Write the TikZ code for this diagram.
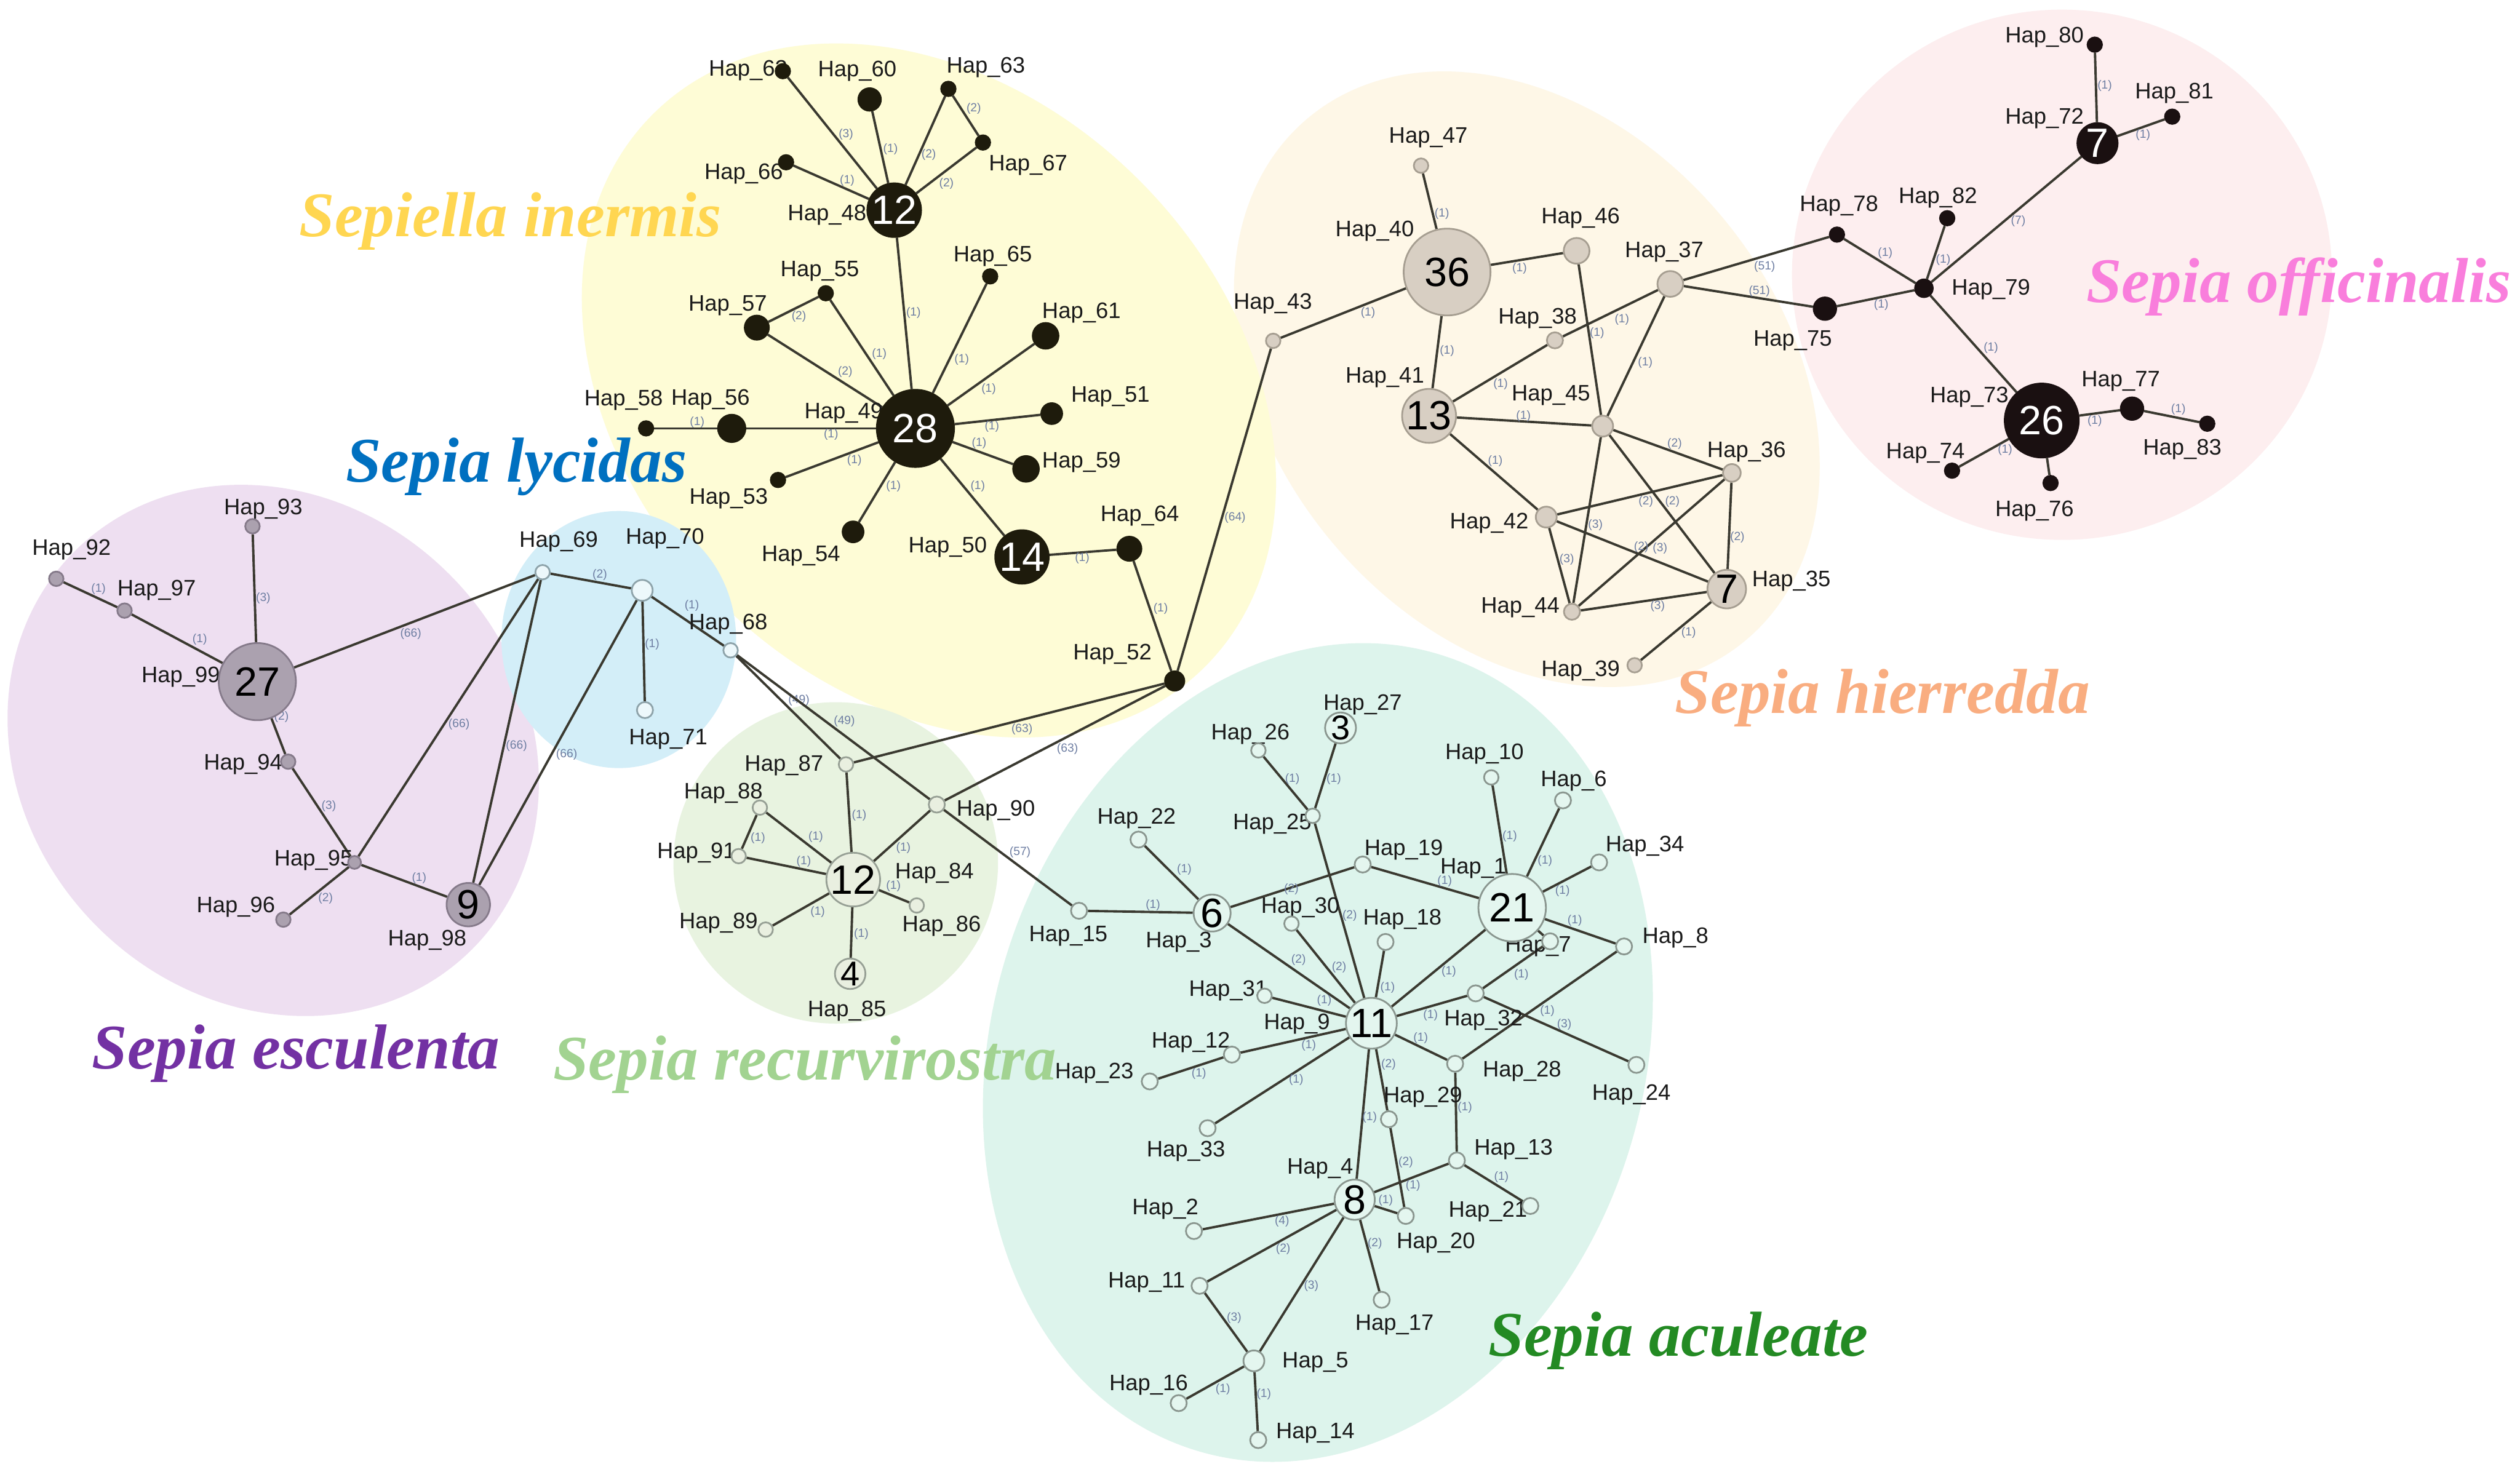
\documentclass[tikz,border=0pt]{standalone}
\usepackage{fontspec}
\setmainfont{Liberation Sans}
\newfontfamily\spfont{Liberation Serif}
\pgfdeclarelayer{bg}
\pgfdeclarelayer{edges}
\pgfsetlayers{bg,edges,main}
\definecolor{inec}{HTML}{1E1B0C}
\definecolor{offc}{HTML}{1A1011}
\definecolor{hiec}{HTML}{D8CFC3}\definecolor{hied}{HTML}{A69E91}
\definecolor{escc}{HTML}{ABA1AF}\definecolor{escd}{HTML}{857A8A}
\definecolor{lycc}{HTML}{EDF8FB}\definecolor{lycd}{HTML}{8EA3AA}
\definecolor{recc}{HTML}{E9EFE0}\definecolor{recd}{HTML}{97A095}
\definecolor{acuc}{HTML}{E4F6EF}\definecolor{acud}{HTML}{8A968F}
\definecolor{edgec}{HTML}{3A3930}
\definecolor{labc}{HTML}{1A1A1A}
\definecolor{elabc}{HTML}{6F7FA3}
\definecolor{yelbg}{HTML}{FEFCD6}
\definecolor{beibg}{HTML}{FEF7E7}
\definecolor{pinbg}{HTML}{FDEEEF}
\definecolor{purbg}{HTML}{EEDFF1}
\definecolor{blubg}{HTML}{D3EEF8}
\definecolor{grnbg}{HTML}{E8F3E0}
\definecolor{mntbg}{HTML}{DDF4EC}
\definecolor{spyel}{HTML}{FFD651}
\definecolor{spblu}{HTML}{0070C0}
\definecolor{sppin}{HTML}{F97EDC}
\definecolor{spsal}{HTML}{F9AD80}
\definecolor{sppur}{HTML}{7331A3}
\definecolor{splgr}{HTML}{A2D391}
\definecolor{spdgr}{HTML}{238A23}
\newcommand\E[4]{\draw[edge] (#1) -- (#2); \node[elab] at (#3) {(#4)};}
\newcommand\EN[2]{\draw[edge] (#1) -- (#2);}
\begin{document}
\begin{tikzpicture}[x=0.02622cm,y=-0.02622cm,
  hn/.style={circle, inner sep=0pt, line width=0.8pt, font=\fontsize{19}{19}\selectfont},
  rad/.style={minimum size=#1*0.05244cm},
  ine/.style={hn, fill=inec, draw=inec, text=white},
  off/.style={hn, fill=offc, draw=offc, text=white},
  hie/.style={hn, fill=hiec, draw=hied},
  esc/.style={hn, fill=escc, draw=escd},
  lyc/.style={hn, fill=lycc, draw=lycd},
  rec/.style={hn, fill=recc, draw=recd},
  acu/.style={hn, fill=acuc, draw=acud},
  sm/.style={font=\fontsize{16}{16}\selectfont},
  hlab/.style={font=\fontsize{10.4}{12}\selectfont, text=labc, inner sep=0pt},
  elab/.style={font=\fontsize{5.5}{6}\selectfont, text=elabc, inner sep=0pt},
  edge/.style={draw=edgec, line width=1.1pt},
  sp/.style={font=\spfont\bfseries\itshape\fontsize{29.5}{32}\selectfont, anchor=base west, inner sep=0pt}]
\useasboundingbox (0,0) rectangle (1568,915.8);
\begin{pgfonlayer}{bg}
\fill[white] (0,0) rectangle (1568,915.8);
\fill[beibg] (950,236) circle[x radius=212, y radius=158, rotate=-50];
\fill[pinbg] (1283,171) circle[x radius=168, y radius=165];
\fill[yelbg] (578,243) circle[x radius=243, y radius=185, rotate=-45];
\fill[mntbg] (820,655) circle[x radius=203, y radius=259, rotate=-17];
\fill[purbg] (170,467) circle[x radius=175, y radius=155, rotate=-45];
\fill[blubg] (385,398) circle[x radius=73, y radius=80];
\fill[grnbg] (520,537) circle[x radius=101, y radius=100];
\end{pgfonlayer}

% species names
\node[sp, text=spyel] (spI) at (186,147) {Sepiella inermis};
\node[sp, text=spblu] (spL) at (215,300) {Sepia lycidas};
\node[sp, text=sppin] (spO) at (1298,188) {Sepia officinalis};
\node[sp, text=spsal] (spH) at (1042,444) {Sepia hierredda};
\node[sp, text=sppur] (spE) at (57,665) {Sepia esculenta};
\node[sp, text=splgr] (spR) at (344,672) {Sepia recurvirostra};
\node[sp, text=spdgr] (spA) at (926,844) {Sepia aculeate};

% ---------- labels ----------
\node[hlab] (l62) at (465.5,44) {Hap\_62};
\node[hlab] (l60) at (533.4,44.4) {Hap\_60};
\node[hlab] (l63) at (613.4,41.8) {Hap\_63};
\node[hlab] (l66) at (462.8,108) {Hap\_66};
\node[hlab] (l67) at (639.7,102.7) {Hap\_67};
\node[hlab] (l48) at (514.6,133.9) {Hap\_48};
\node[hlab] (l55) at (510.1,168.9) {Hap\_55};
\node[hlab] (l65) at (617.7,159.6) {Hap\_65};
\node[hlab] (l57) at (452.8,190.3) {Hap\_57};
\node[hlab] (l61) at (672.9,194.6) {Hap\_61};
\node[hlab] (l58) at (388,249) {Hap\_58};
\node[hlab] (l56) at (442.1,248.7) {Hap\_56};
\node[hlab] (l49) at (525,257) {Hap\_49};
\node[hlab] (l51) at (690.9,246.7) {Hap\_51};
\node[hlab] (l59) at (672.9,287.6) {Hap\_59};
\node[hlab] (l53) at (453.4,310.4) {Hap\_53};
\node[hlab] (l54) at (498.4,345.9) {Hap\_54};
\node[hlab] (l50) at (589.7,340.6) {Hap\_50};
\node[hlab] (l64) at (709.2,321) {Hap\_64};
\node[hlab] (l52) at (692.2,407.3) {Hap\_52};

\node[hlab] (l47) at (888.7,85.6) {Hap\_47};
\node[hlab] (l40) at (855.4,143.6) {Hap\_40};
\node[hlab] (l46) at (983.5,135.8) {Hap\_46};
\node[hlab] (l37) at (1035.5,156.6) {Hap\_37};
\node[hlab] (l43) at (792,189) {Hap\_43};
\node[hlab] (l38) at (956.7,198.1) {Hap\_38};
\node[hlab] (l41) at (861.7,234.9) {Hap\_41};
\node[hlab] (l45) at (965,246.2) {Hap\_45};
\node[hlab] (l36) at (1086.7,281.2) {Hap\_36};
\node[hlab] (l42) at (926.6,325.7) {Hap\_42};
\node[hlab] (l44) at (946,378) {Hap\_44};
\node[hlab] (l35) at (1114.6,361.7) {Hap\_35};
\node[hlab] (l39) at (983.5,417.5) {Hap\_39};

\node[hlab] (l80) at (1272.1,23.3) {Hap\_80};
\node[hlab] (l81) at (1352.9,58) {Hap\_81};
\node[hlab] (l72) at (1272.1,73.6) {Hap\_72};
\node[hlab] (l78) at (1144.3,128) {Hap\_78};
\node[hlab] (l82) at (1205.8,123.2) {Hap\_82};
\node[hlab] (l79) at (1238.8,180) {Hap\_79};
\node[hlab] (l75) at (1115.5,212.1) {Hap\_75};
\node[hlab] (l73) at (1225.3,247.1) {Hap\_73};
\node[hlab] (l77) at (1319.6,237.4) {Hap\_77};
\node[hlab] (l83) at (1357.9,279.6) {Hap\_83};
\node[hlab] (l74) at (1198,282) {Hap\_74};
\node[hlab] (l76) at (1265.9,317.8) {Hap\_76};

\node[hlab] (l93) at (163.8,316.8) {Hap\_93};
\node[hlab] (l92) at (44.5,342) {Hap\_92};
\node[hlab] (l97) at (97.5,367.4) {Hap\_97};
\node[hlab] (l99) at (112.5,421.3) {Hap\_99};
\node[hlab] (l94) at (151.3,475.8) {Hap\_94};
\node[hlab] (l95) at (195.1,535.3) {Hap\_95};
\node[hlab] (l96) at (146.8,564.3) {Hap\_96};
\node[hlab] (l98) at (265.8,585.3) {Hap\_98};

\node[hlab] (l69) at (347.6,337.2) {Hap\_69};
\node[hlab] (l70) at (413.8,335.3) {Hap\_70};
\node[hlab] (l68) at (453.1,388.3) {Hap\_68};
\node[hlab] (l71) at (415.8,460.2) {Hap\_71};

\node[hlab] (l87) at (487.8,476.3) {Hap\_87};
\node[hlab] (l88) at (450.1,493.5) {Hap\_88};
\node[hlab] (l90) at (619.6,504.2) {Hap\_90};
\node[hlab] (l91) at (433.3,530.8) {Hap\_91};
\node[hlab] (l84) at (581.4,543.5) {Hap\_84};
\node[hlab] (l86) at (585.9,576.5) {Hap\_86};
\node[hlab] (l89) at (447.1,574.6) {Hap\_89};
\node[hlab] (l85) at (527,629) {Hap\_85};

\node[hlab] (l27) at (847.9,438.4) {Hap\_27};
\node[hlab] (l26) at (778,457) {Hap\_26};
\node[hlab] (l25) at (791.6,512.8) {Hap\_25};
\node[hlab] (l10) at (923.7,469.2) {Hap\_10};
\node[hlab] (l6) at (979.2,486.1) {Hap\_6};
\node[hlab] (l34) at (1023.5,526.6) {Hap\_34};
\node[hlab] (l19) at (873.4,528.9) {Hap\_19};
\node[hlab] (l22) at (707.2,509.4) {Hap\_22};
\node[hlab] (l15) at (664.7,582.4) {Hap\_15};
\node[hlab] (l3) at (733.5,586.3) {Hap\_3};
\node[hlab] (l1) at (916.7,540.5) {Hap\_1};
\node[hlab] (l8) at (1042.5,583.8) {Hap\_8};
\node[hlab] (l7) at (957,589) {Hap\_7};
\node[hlab] (l30) at (809.1,565) {Hap\_30};
\node[hlab] (l18) at (872.6,572.2) {Hap\_18};
\node[hlab] (l31) at (764.2,616.5) {Hap\_31};
\node[hlab] (l9) at (807,637.2) {Hap\_9};
\node[hlab] (l32) at (923,634.9) {Hap\_32};
\node[hlab] (l12) at (741,648.6) {Hap\_12};
\node[hlab] (l23) at (680.9,667.7) {Hap\_23};
\node[hlab] (l28) at (947,666.5) {Hap\_28};
\node[hlab] (l24) at (1015.1,681.3) {Hap\_24};
\node[hlab] (l33) at (737.9,716.4) {Hap\_33};
\node[hlab] (l29) at (885.4,682.7) {Hap\_29};
\node[hlab] (l13) at (941.8,715.4) {Hap\_13};
\node[hlab] (l4) at (821.4,727.1) {Hap\_4};
\node[hlab] (l21) at (925.8,754) {Hap\_21};
\node[hlab] (l20) at (893.4,773.5) {Hap\_20};
\node[hlab] (l2) at (725.1,752.4) {Hap\_2};
\node[hlab] (l11) at (713.4,798.2) {Hap\_11};
\node[hlab] (l17) at (867.7,824.5) {Hap\_17};
\node[hlab] (l5) at (818.4,847.9) {Hap\_5};
\node[hlab] (l16) at (714.7,861.9) {Hap\_16};
\node[hlab] (l14) at (818.4,891.7) {Hap\_14};

% ---------- nodes: Sepiella inermis ----------
\node[ine, rad=4.5] (h62) at (487.1,44.3) {};
\node[ine, rad=7] (h60) at (541.1,61.9) {};
\node[ine, rad=4.5] (h63) at (590.1,55.3) {};
\node[ine, rad=4.5] (h67) at (611.6,88.7) {};
\node[ine, rad=4.5] (h66) at (489.1,101) {};
\node[ine, rad=15.5] (h48) at (556.4,130.8) {12};
\node[ine, rad=4.5] (h65) at (616.1,172) {};
\node[ine, rad=4.5] (h55) at (513.8,182.5) {};
\node[ine, rad=7.5] (h57) at (470.9,203.9) {};
\node[ine, rad=8] (h61) at (650.6,209) {};
\node[ine, rad=6.5] (h51) at (654.4,257.4) {};
\node[ine, rad=24] (h49) at (569.6,266.6) {28};
\node[ine, rad=8.5] (h56) at (455.3,266.6) {};
\node[ine, rad=4.5] (h58) at (402,266.6) {};
\node[ine, rad=8] (h59) at (638.4,291.8) {};
\node[ine, rad=4.5] (h53) at (484.1,298.7) {};
\node[ine, rad=6.5] (h54) at (530.8,331) {};
\node[ine, rad=16.5] (h50) at (635.9,346.6) {14};
\node[ine, rad=7.5] (h64) at (702.7,341.5) {};
\node[ine, rad=6] (h52) at (730.9,423.8) {};

% ---------- Sepia hierredda ----------
\node[hie, rad=4.5] (h47) at (884.2,103.1) {};
\node[hie, rad=27] (h40) at (900.4,169.3) {36};
\node[hie, rad=8] (h46) at (981,156.1) {};
\node[hie, rad=8] (h37) at (1039.3,176.7) {};
\node[hie, rad=4.5] (h43) at (792.2,212.1) {};
\node[hie, rad=5] (h38) at (967.5,211.8) {};
\node[hie, rad=16] (h41) at (889.2,258.8) {13};
\node[hie, rad=6.5] (h45) at (997.2,265.2) {};
\node[hie, rad=5.5] (h36) at (1077.6,294.3) {};
\node[hie, rad=6.5] (h42) at (962.1,321.8) {};
\node[hie, rad=5] (h44) at (978.1,380.7) {};
\node[hie, rad=12] (h35) at (1074.4,366.6) {7};
\node[hie, rad=4.5] (h39) at (1017.1,414) {};

% ---------- Sepia officinalis ----------
\node[off, rad=4.5] (h80) at (1303.4,27.8) {};
\node[off, rad=4.5] (h81) at (1351.6,72.6) {};
\node[off, rad=12.5] (h72) at (1305.1,89.1) {7};
\node[off, rad=4.5] (h78) at (1143,146) {};
\node[off, rad=4.5] (h82) at (1211.6,135.8) {};
\node[off, rad=5.5] (h79) at (1197.1,179.4) {};
\node[off, rad=7] (h75) at (1135.5,192.1) {};
\node[off, rad=23] (h73) at (1270.4,261.7) {26};
\node[off, rad=7] (h77) at (1326.6,254.3) {};
\node[off, rad=4.5] (h83) at (1373.4,263.7) {};
\node[off, rad=4.5] (h74) at (1214.6,292.9) {};
\node[off, rad=4.5] (h76) at (1275.9,300.6) {};

% ---------- Sepia esculenta ----------
\node[esc, rad=4.5] (h93) at (157.1,327.5) {};
\node[esc, rad=4.5] (h92) at (35,360.2) {};
\node[esc, rad=4.5] (h97) at (77.5,380) {};
\node[esc, rad=24] (h99) at (160.1,424.2) {27};
\node[esc, rad=4.5] (h94) at (179.3,474) {};
\node[esc, rad=4] (h95) at (220.6,536.7) {};
\node[esc, rad=4.5] (h96) at (176.3,572.3) {};
\node[esc, rad=13.5] (h98) at (291.4,563) {9};

% ---------- Sepia lycidas ----------
\node[lyc, rad=4.5] (h69) at (337.6,356.1) {};
\node[lyc, rad=6.5] (h70) at (399.6,367.4) {};
\node[lyc, rad=4.5] (h68) at (454.6,404.7) {};
\node[lyc, rad=5] (h71) at (401.3,441.9) {};

% ---------- Sepia recurvirostra ----------
\node[rec, rad=4.5] (h87) at (526.4,475.7) {};
\node[rec, rad=4.5] (h88) at (472.8,502.6) {};
\node[rec, rad=5] (h90) at (582.9,500.7) {};
\node[rec, rad=4.5] (h91) at (459.6,532.8) {};
\node[rec, rad=14.5] (h84) at (530.9,547.4) {12};
\node[rec, rad=4.5] (h86) at (570.4,563.5) {};
\node[rec, rad=4.5] (h89) at (476.4,578.5) {};
\node[rec, rad=9, sm] (h85) at (529,606) {4};

% ---------- Sepia aculeate ----------
\node[acu, rad=8, sm] (h27) at (834.1,453) {3};
\node[acu, rad=4.5] (h26) at (783,467) {};
\node[acu, rad=4.5] (h25) at (816.8,507.7) {};
\node[acu, rad=4.5] (h10) at (927.9,483.8) {};
\node[acu, rad=5] (h6) at (972.5,498.1) {};
\node[acu, rad=5] (h34) at (995,536.7) {};
\node[acu, rad=5] (h19) at (847.9,538) {};
\node[acu, rad=5] (h22) at (708.4,522.5) {};
\node[acu, rad=5] (h15) at (671.4,566.8) {};
\node[acu, rad=11.5] (h3) at (754.2,568.2) {6};
\node[acu, rad=21] (h1) at (940.9,564.9) {21};
\node[acu, rad=5] (h8) at (1010.5,589) {};
\node[acu, rad=5] (h7) at (964.5,585.8) {};
\node[acu, rad=4.5] (h30) at (803.6,574.8) {};
\node[acu, rad=5] (h18) at (862.1,586.2) {};
\node[acu, rad=4.5] (h31) at (786.8,619.7) {};
\node[acu, rad=15] (h9) at (853.3,636.8) {11};
\node[acu, rad=5] (h32) at (918.2,618.2) {};
\node[acu, rad=5] (h12) at (766.5,656.3) {};
\node[acu, rad=5] (h23) at (715.4,673) {};
\node[acu, rad=5] (h28) at (905.4,662) {};
\node[acu, rad=5] (h24) at (1018.2,662.7) {};
\node[acu, rad=5] (h33) at (751.4,702.1) {};
\node[acu, rad=5] (h29) at (864.2,696.5) {};
\node[acu, rad=5] (h13) at (906.5,722.2) {};
\node[acu, rad=12.5] (h4) at (842.9,746.6) {8};
\node[acu, rad=5] (h21) at (952.2,750.5) {};
\node[acu, rad=5] (h20) at (874.7,756.7) {};
\node[acu, rad=5] (h2) at (742.9,766.1) {};
\node[acu, rad=5] (h11) at (746.4,800.2) {};
\node[acu, rad=5] (h17) at (859.7,808.9) {};
\node[acu, rad=6.5] (h5) at (780.2,846.9) {};
\node[acu, rad=5] (h16) at (733.4,873.2) {};
\node[acu, rad=5] (h14) at (782.9,896.2) {};

% ---------- connectors ----------
\begin{pgfonlayer}{edges}
\E{h62}{h48}{526.4,83.7}{3}
\E{h60}{h48}{554.1,92.8}{1}
\E{h63}{h48}{577.9,96.3}{2}
\E{h63}{h67}{605.9,67.7}{2}
\E{h67}{h48}{588.9,114.2}{2}
\E{h66}{h48}{527.1,112.3}{1}
\E{h48}{h49}{568.4,194.6}{1}
\E{h57}{h55}{497.1,196.9}{2}
\E{h55}{h49}{547.1,220.5}{1}
\E{h57}{h49}{525.9,231.6}{2}
\E{h65}{h49}{598.4,223.8}{1}
\E{h61}{h49}{615.2,242.3}{1}
\E{h58}{h56}{433.8,262.7}{1}
\E{h56}{h49}{517.1,270.5}{1}
\E{h51}{h49}{617.2,265.6}{1}
\E{h59}{h49}{609.2,275.9}{1}
\E{h53}{h49}{531.6,286.4}{1}
\E{h54}{h49}{555.9,302.6}{1}
\E{h50}{h49}{608.4,302.6}{1}
\E{h50}{h64}{673.4,347.4}{1}
\E{h64}{h52}{722.2,378.7}{1}
\E{h52}{h43}{768.5,322.2}{64}
\E{h52}{h87}{635.9,454}{63}
\E{h52}{h90}{664.2,466.2}{63}

\E{h47}{h40}{897.2,132.9}{1}
\E{h40}{h46}{945.5,167}{1}
\E{h43}{h40}{851.2,194.6}{1}
\E{h40}{h41}{900.4,218.5}{1}
\E{h37}{h38}{1009.2,198.9}{1}
\E{h46}{h45}{993.7,207.2}{1}
\E{h37}{h45}{1023.7,225.7}{1}
\E{h38}{h41}{933.7,239}{1}
\E{h41}{h45}{947.9,258.8}{1}
\E{h45}{h36}{1042,276.2}{2}
\E{h41}{h42}{930.4,287}{1}
\E{h42}{h36}{1024.1,312.3}{2}
\E{h45}{h35}{1040.6,312.3}{2}
\E{h45}{h44}{992.7,326.9}{3}
\E{h36}{h35}{1081,334.5}{2}
\E{h36}{h44}{1021.2,340.6}{2}
\E{h42}{h35}{1032.9,341.3}{3}
\E{h42}{h44}{974.9,348}{3}
\E{h44}{h35}{1031.4,377.2}{3}
\E{h35}{h39}{1050.7,393.6}{1}
\E{h37}{h78}{1098,165.8}{51}
\E{h37}{h75}{1094.7,181.4}{51}

\E{h78}{h79}{1173,157.6}{1}
\E{h75}{h79}{1170.5,189.7}{1}
\E{h80}{h72}{1309.6,53.5}{1}
\E{h72}{h81}{1333.4,84.1}{1}
\E{h72}{h79}{1255.8,137.6}{7}
\E{h82}{h79}{1209.1,161.9}{1}
\E{h79}{h73}{1238.8,216.4}{1}
\E{h73}{h77}{1303.4,262.1}{1}
\E{h77}{h83}{1355.4,254.9}{1}
\E{h73}{h74}{1247.6,280.2}{1}
\EN{h73}{h76}

\E{h92}{h97}{61.3,366.4}{1}
\E{h97}{h99}{124.3,398.1}{1}
\E{h93}{h99}{163.8,372.3}{3}
\E{h99}{h69}{255.6,394.6}{66}
\E{h99}{h94}{175.1,446.2}{2}
\E{h94}{h95}{204.6,501.6}{3}
\E{h95}{h98}{260.8,546.4}{1}
\E{h95}{h96}{202.6,559}{2}
\E{h69}{h95}{285.6,450.7}{66}
\E{h69}{h98}{321.4,464.3}{66}
\E{h70}{h98}{352.6,469.5}{66}
\E{h69}{h70}{373.2,357.7}{2}
\E{h70}{h68}{430.5,377}{1}
\E{h70}{h71}{405.8,401}{1}
\E{h68}{h87}{497.1,435.9}{49}
\E{h68}{h90}{525.4,448.7}{49}
\E{h90}{h15}{634.7,530.4}{57}

\E{h87}{h84}{534.6,507.5}{1}
\E{h88}{h84}{507.6,520.7}{1}
\E{h88}{h91}{471.6,521.5}{1}
\E{h91}{h84}{500.1,536.3}{1}
\E{h90}{h84}{562.1,527.9}{1}
\E{h84}{h86}{555.9,551.6}{1}
\E{h89}{h84}{508.8,567.4}{1}
\E{h84}{h85}{535.9,581.4}{1}

\E{h26}{h25}{804.1,485}{1}
\E{h27}{h25}{829.9,485}{1}
\E{h25}{h9}{839.8,569.7}{2}
\E{h22}{h3}{736.9,541.2}{1}
\E{h15}{h3}{717.4,563.5}{1}
\E{h3}{h19}{803.5,553.5}{2}
\E{h19}{h1}{898.9,548.2}{1}
\E{h10}{h1}{939.4,520.4}{1}
\E{h6}{h1}{961.3,535.6}{1}
\E{h34}{h1}{972.2,554.5}{1}
\E{h1}{h8}{979.9,572.9}{1}
\EN{h1}{h7}
\E{h3}{h9}{808,597.5}{2}
\E{h30}{h9}{833.2,602}{2}
\E{h18}{h9}{863.4,614.6}{1}
\E{h1}{h9}{901.5,604.5}{1}
\E{h7}{h32}{946.6,606.4}{1}
\E{h31}{h9}{824,622.8}{1}
\E{h9}{h32}{890.1,631.7}{1}
\E{h8}{h28}{962.8,629.2}{1}
\E{h32}{h24}{973.3,637.4}{3}
\E{h12}{h9}{814.3,650.5}{1}
\E{h9}{h28}{884,646}{1}
\E{h9}{h29}{864,662.4}{2}
\E{h23}{h12}{746,668.2}{1}
\E{h33}{h9}{806.5,672.2}{1}
\E{h28}{h13}{911.5,689.1}{1}
\E{h9}{h4}{852.2,695.5}{1}
\E{h29}{h20}{874.7,723.2}{2}
\E{h13}{h4}{879.2,737.8}{1}
\E{h13}{h21}{934.2,732.5}{1}
\E{h4}{h20}{862.2,747}{1}
\E{h2}{h4}{797.7,760.2}{4}
\E{h11}{h4}{798.4,777.3}{2}
\E{h4}{h17}{855.5,773.9}{2}
\E{h4}{h5}{815.9,800.2}{3}
\E{h11}{h5}{767.9,820}{3}
\E{h5}{h16}{760.9,864.4}{1}
\E{h5}{h14}{786.4,867.7}{1}
\end{pgfonlayer}
\end{tikzpicture}
\end{document}
